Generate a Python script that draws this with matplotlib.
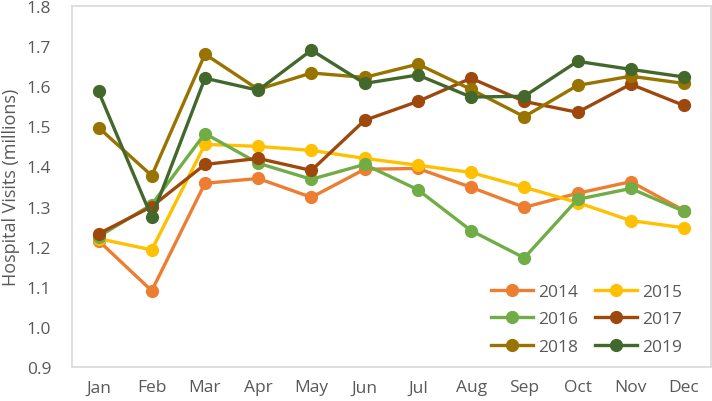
#!/usr/bin/env python3

import numpy as np
import matplotlib
matplotlib.use('Agg')
import matplotlib.pyplot as plt

months = ['Jan', 'Feb', 'Mar', 'Apr', 'May', 'Jun', 'Jul', 'Aug', 'Sep', 'Oct', 'Nov', 'Dec']

v2014 = [1.215, 1.090, 1.358, 1.370, 1.323, 1.393, 1.395, 1.348, 1.298, 1.333, 1.362, 1.290]
v2015 = [1.220, 1.192, 1.455, 1.450, 1.440, 1.420, 1.403, 1.385, 1.348, 1.310, 1.265, 1.247]
v2016 = [1.225, 1.305, 1.482, 1.408, 1.368, 1.405, 1.342, 1.240, 1.172, 1.318, 1.345, 1.288]
v2017 = [1.232, 1.300, 1.405, 1.420, 1.390, 1.515, 1.562, 1.620, 1.562, 1.535, 1.605, 1.552]
v2018 = [1.497, 1.377, 1.680, 1.592, 1.633, 1.622, 1.655, 1.592, 1.524, 1.602, 1.625, 1.607]
v2019 = [1.587, 1.273, 1.620, 1.590, 1.690, 1.607, 1.628, 1.573, 1.575, 1.662, 1.642, 1.623]

years = ['2014', '2015', '2016', '2017', '2018', '2019']
series = [v2014, v2015, v2016, v2017, v2018, v2019]
colors = ['#ED7D31', '#FFC000', '#70AD47', '#9E480E', '#997300', '#43682B']

plt.rcParams['font.family'] = ['Open Sans', 'DejaVu Sans']
txt = '#595959'

fig = plt.figure(figsize=(7.12, 4.02), dpi=100)
ax = fig.add_axes([0.101, 0.0846, 0.897, 0.898])

x = np.arange(len(months))
lines = {}
for name, vals, c in zip(years, series, colors):
	ln, = ax.plot(x, vals, color=c, lw=2.4, marker='o', markersize=8.5, label=name)
	lines[name] = ln

ax.set_xlim(-0.5, 11.5)
ax.set_ylim(0.9, 1.8)
ax.set_xticks(x)
ax.set_xticklabels(months)
ax.set_yticks(np.arange(0.9, 1.81, 0.1))
ax.set_yticklabels([f'{v:.1f}' for v in np.arange(0.9, 1.81, 0.1)])
ax.tick_params(length=0, colors=txt, labelsize=12.5)
ax.tick_params(axis='x', pad=9)
ax.tick_params(axis='y', pad=15)
for s in ax.spines.values():
	s.set_color('#D9D9D9')
	s.set_linewidth(1.2)
ax.set_ylabel('Hospital Visits (millions)', color=txt, fontsize=13, labelpad=5)

# legend fills column-wise, so reorder to read row-wise
order = ['2014', '2016', '2018', '2015', '2017', '2019']
ax.legend([lines[k] for k in order], order, ncol=2, frameon=False, loc='lower right',
	bbox_to_anchor=(0.98, -0.01), fontsize=12.5, labelcolor=txt, handlelength=2.4,
	columnspacing=1.0, handletextpad=0.3, labelspacing=0.66, markerscale=1.0)

fig.savefig('out.png', dpi=100)
